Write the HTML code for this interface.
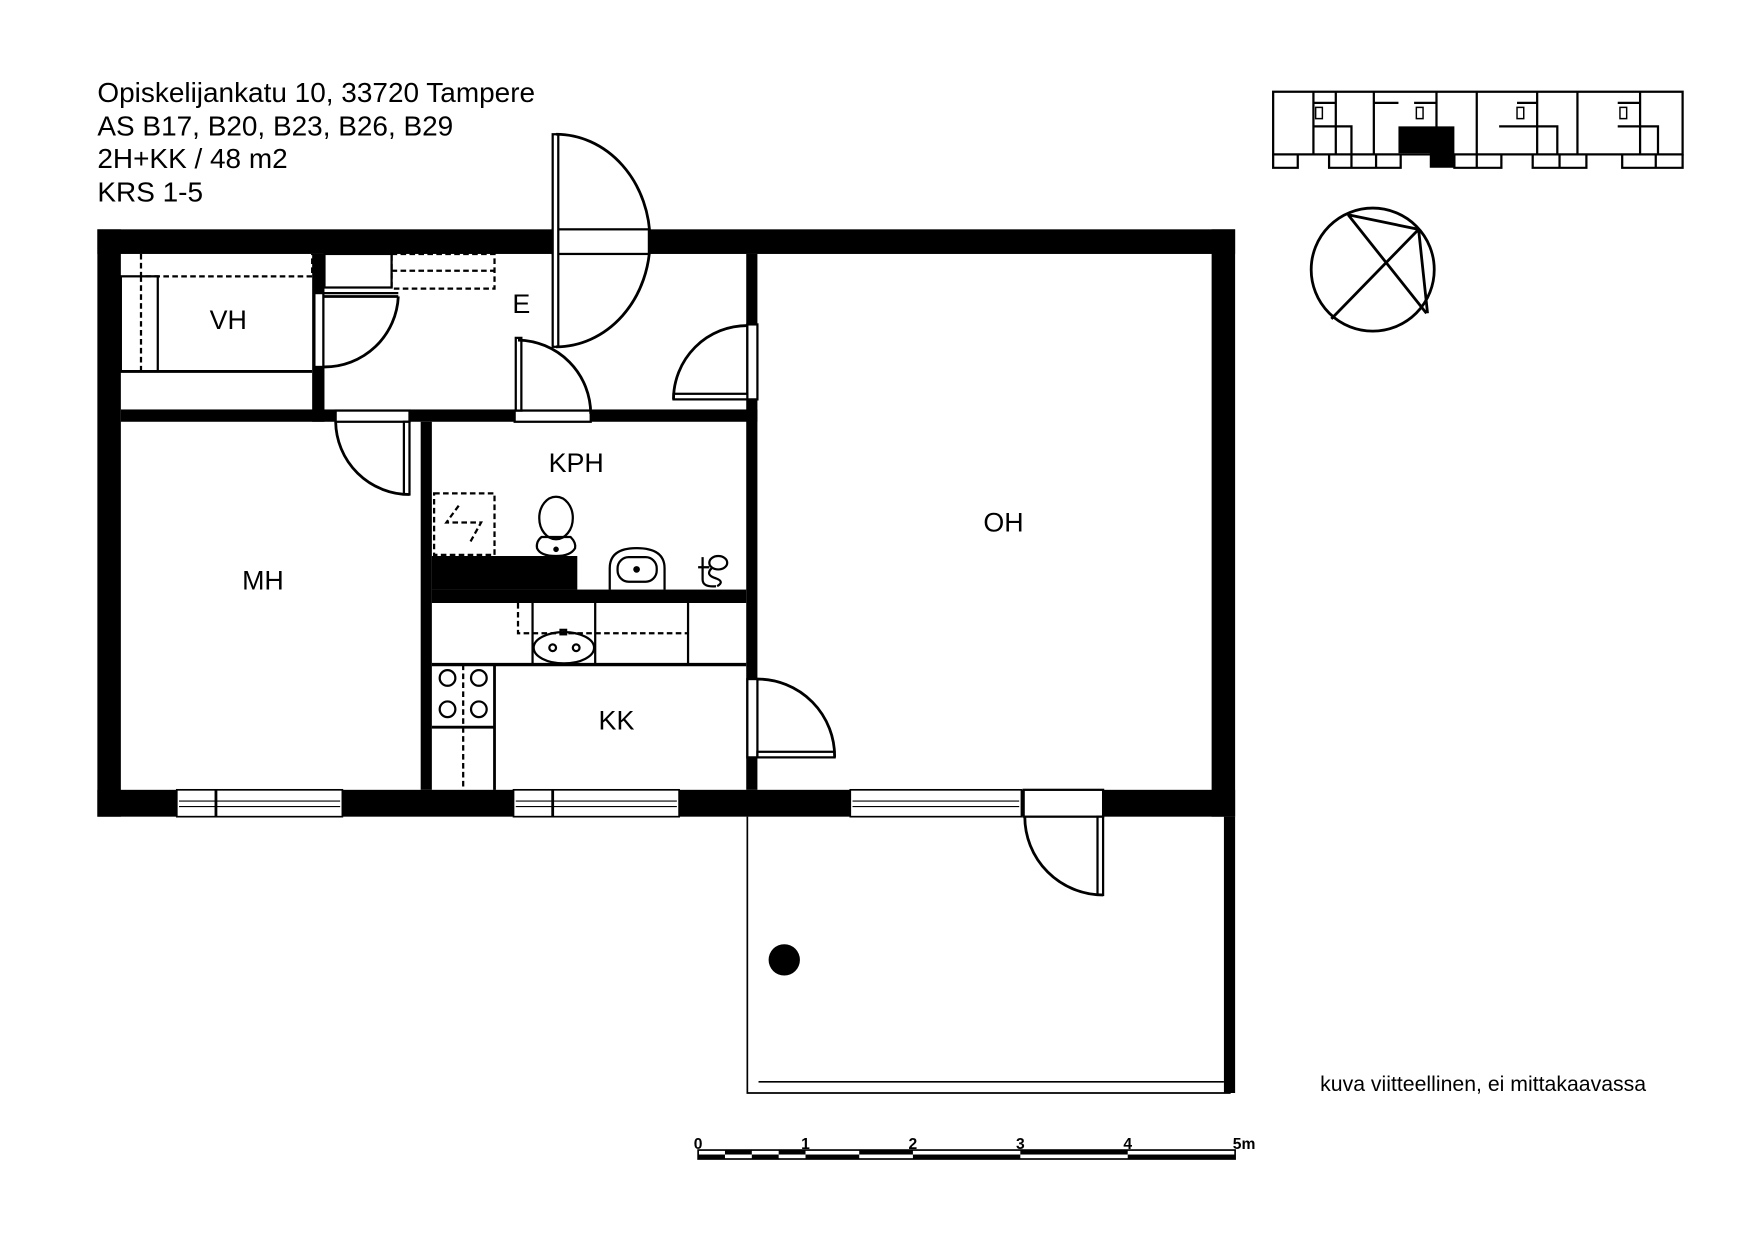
<!DOCTYPE html>
<html><head><meta charset="utf-8"><style>
html,body{margin:0;padding:0;background:#fff;}
svg{display:block;}
text{font-family:"Liberation Sans",sans-serif;fill:#000;}
</style></head><body>
<svg width="1752" height="1240" viewBox="0 0 1566 1108.4" xmlns="http://www.w3.org/2000/svg">
<rect width="1570" height="1110" fill="#fff"/>
<g font-size="25">
<text x="87" y="91">Opiskelijankatu 10, 33720 Tampere</text>
<text x="87" y="121">AS B17, B20, B23, B26, B29</text>
<text x="87" y="150">2H+KK / 48 m2</text>
<text x="87" y="180">KRS 1-5</text>
</g>
<g fill="#000">
<rect x="87" y="205" width="1017" height="22"/>
<rect x="87" y="205" width="21" height="525"/>
<rect x="1083" y="205" width="21" height="525"/>
<rect x="87" y="706" width="1017" height="24"/>
<rect x="279" y="227" width="11" height="150"/>
<rect x="108" y="366" width="569" height="11"/>
<rect x="376" y="377" width="10" height="329"/>
<rect x="667" y="227" width="10" height="479"/>
<rect x="386" y="527" width="281" height="12"/>
<rect x="386" y="497" width="130" height="30"/>
</g>
<g fill="#fff" stroke="#000" stroke-width="2">
<rect x="494" y="205" width="86" height="22"/>
<rect x="300" y="367" width="66" height="10"/>
<rect x="460" y="367" width="68" height="10"/>
<rect x="668" y="290" width="9" height="67"/>
<rect x="668" y="607" width="9" height="70"/>
<rect x="915" y="706" width="71" height="24"/>
<rect x="281" y="262" width="8" height="66"/>
</g>
<g fill="#fff" stroke="#000" stroke-width="1.5">
<rect x="158" y="706" width="148" height="24"/>
<rect x="459" y="706" width="148" height="24"/>
<rect x="760" y="706" width="153" height="24"/>
<line x1="193" y1="706" x2="193" y2="730" stroke-width="2.5"/>
<line x1="494" y1="706" x2="494" y2="730" stroke-width="2.5"/>
<path d="M160 716H304M160 721H304M461 716H605M461 721H605M762 716H911M762 721H911" stroke-width="1"/>
</g>
<g fill="none" stroke="#000" stroke-width="2.5">
<rect x="494" y="120" width="5" height="190" fill="#fff" stroke-width="2"/>
<path d="M497 120 A84 95 0 0 1 497 310"/>
<path d="M290 265H356"/><path d="M290 262H356" stroke-width="2"/>
<path d="M356 265 A66 66 0 0 1 290 328"/>
<rect x="461" y="302" width="5" height="65" fill="#fff" stroke-width="2"/>
<path d="M463 304 A66 66 0 0 1 528 370"/>
<rect x="361" y="377" width="5" height="65" fill="#fff" stroke-width="2"/>
<path d="M300 377 A66 66 0 0 0 366 442"/>
<rect x="602" y="352" width="66" height="5" fill="#fff" stroke-width="2"/>
<path d="M668 291 A66 66 0 0 0 602 357"/>
<rect x="677" y="672" width="69" height="5" fill="#fff" stroke-width="2"/>
<path d="M677 607 A69 69 0 0 1 746 677"/>
<rect x="981" y="730" width="5" height="70" fill="#fff" stroke-width="2"/>
<path d="M916 730 A70 70 0 0 0 986 800"/>
</g>
<g fill="none" stroke="#000" stroke-width="2">
<rect x="108" y="247" width="33" height="85"/>
<line x1="108" y1="332" x2="279" y2="332" stroke-width="2.5"/>
<path d="M126 227V247H279V227" stroke-dasharray="5,3"/>
<line x1="126" y1="247" x2="126" y2="332" stroke-dasharray="5,3"/>
<rect x="290" y="227" width="60" height="30"/>
<rect x="350" y="227" width="92" height="31" stroke-dasharray="5,3"/>
<line x1="350" y1="242" x2="442" y2="242" stroke-dasharray="5,3"/>
</g>
<g fill="none" stroke="#000" stroke-width="2">
<rect x="388" y="441" width="54" height="55" stroke-dasharray="5,3"/>
<path d="M410 452L399 467H430L420 485" stroke-dasharray="5,3"/>
<ellipse cx="497" cy="463" rx="15" ry="19"/>
<path d="M484 480H510Q515 485 514 490Q510 497 497 497Q483 497 480 490Q479 484 484 480Z"/>
<circle cx="497" cy="491" r="1.5" fill="#000"/>
<path d="M545 527V508Q545 490 569 490Q594 490 594 508V527"/>
<rect x="552" y="498" width="35" height="22" rx="10"/>
<circle cx="569" cy="509" r="2" fill="#000"/>
<path d="M628 498V518Q628 525 640 524M624 507H634"/>
<ellipse cx="642" cy="503" rx="8" ry="6"/>
<path d="M636 508Q630 514 640 517Q648 520 641 524"/>
</g>
<g fill="none" stroke="#000" stroke-width="2">
<line x1="386" y1="594" x2="667" y2="594" stroke-width="3"/>
<path d="M476 539V594M532 539V594M615 539V594"/>
<path d="M463 539V566H615" stroke-dasharray="5,3"/>
<ellipse cx="504" cy="579" rx="27" ry="14"/>
<circle cx="494" cy="579" r="3"/><circle cx="515" cy="579" r="3"/>
<rect x="501" y="563" width="5" height="4"/>
<line x1="442" y1="594" x2="442" y2="706" stroke-width="2.5"/>
<line x1="386" y1="650" x2="442" y2="650" stroke-width="2.5"/>
<line x1="414" y1="594" x2="414" y2="706" stroke-dasharray="5,3"/>
<circle cx="400" cy="606" r="7"/><circle cx="428" cy="606" r="7"/>
<circle cx="400" cy="634" r="7"/><circle cx="428" cy="634" r="7"/>
</g>
<g fill="none" stroke="#000" stroke-width="1.5">
<path d="M668 730V977H1100"/>
<line x1="678" y1="967" x2="1094" y2="967"/>
</g>
<rect x="1094" y="730" width="10" height="247" fill="#000"/>
<circle cx="701" cy="858" r="14" fill="#000"/>
<g font-size="24" text-anchor="middle">
<text x="204" y="294">VH</text>
<text x="466" y="280">E</text>
<text x="515" y="422">KPH</text>
<text x="897" y="475">OH</text>
<text x="235" y="527">MH</text>
<text x="551" y="652">KK</text>
</g>
<g fill="none" stroke="#000" stroke-width="2">
<rect x="1138" y="82" width="366" height="56"/>
<path d="M1174 82V138M1194 82V138M1228 82V138M1284 82V138M1320 82V138M1374 82V138M1410 82V138M1466 82V138"/>
<path d="M1174 92H1194M1228 92H1250M1264 92H1284M1356 92H1374M1446 92H1466"/>
<path d="M1174 113H1208V138M1340 113H1392V138M1446 113H1482V138"/>
<path d="M1138 138V150H1160V138M1188 138V150H1252V138M1208 138V150M1230 138V150M1300 138V150H1342V138M1320 138V150M1370 138V150H1418V138M1394 138V150M1450 138V150H1504V138M1480 138V150"/>
<path d="M1176 96h6v10h-6zM1266 96h6v10h-6zM1356 96h6v10h-6zM1448 96h6v10h-6z" stroke-width="1.3"/>
</g>
<path d="M1250 113H1300V150H1278V137H1250Z" fill="#000"/>
<g fill="none" stroke="#000" stroke-width="2.5">
<circle cx="1227" cy="241" r="55"/>
<path d="M1205 192L1275 280M1268 205L1190 285M1205 192L1268 205L1276 280"/>
</g>
<text x="1180" y="975" font-size="19">kuva viitteellinen, ei mittakaavassa</text>
<g font-size="14" font-weight="bold" text-anchor="middle">
<text x="624" y="1027">0</text><text x="720" y="1027">1</text><text x="816" y="1027">2</text>
<text x="912" y="1027">3</text><text x="1008" y="1027">4</text><text x="1112" y="1027">5m</text>
</g>
<rect x="624" y="1028" width="480" height="8" fill="#fff" stroke="#000" stroke-width="1.5"/>
<g fill="#000">
<rect x="624" y="1032" width="24" height="4"/><rect x="648" y="1028" width="24" height="4"/>
<rect x="672" y="1032" width="24" height="4"/><rect x="696" y="1028" width="24" height="4"/>
<rect x="720" y="1032" width="48" height="4"/><rect x="768" y="1028" width="48" height="4"/>
<rect x="816" y="1032" width="96" height="4"/><rect x="912" y="1028" width="96" height="4"/>
<rect x="1008" y="1032" width="96" height="4"/>
</g>
</svg>
</body></html>
